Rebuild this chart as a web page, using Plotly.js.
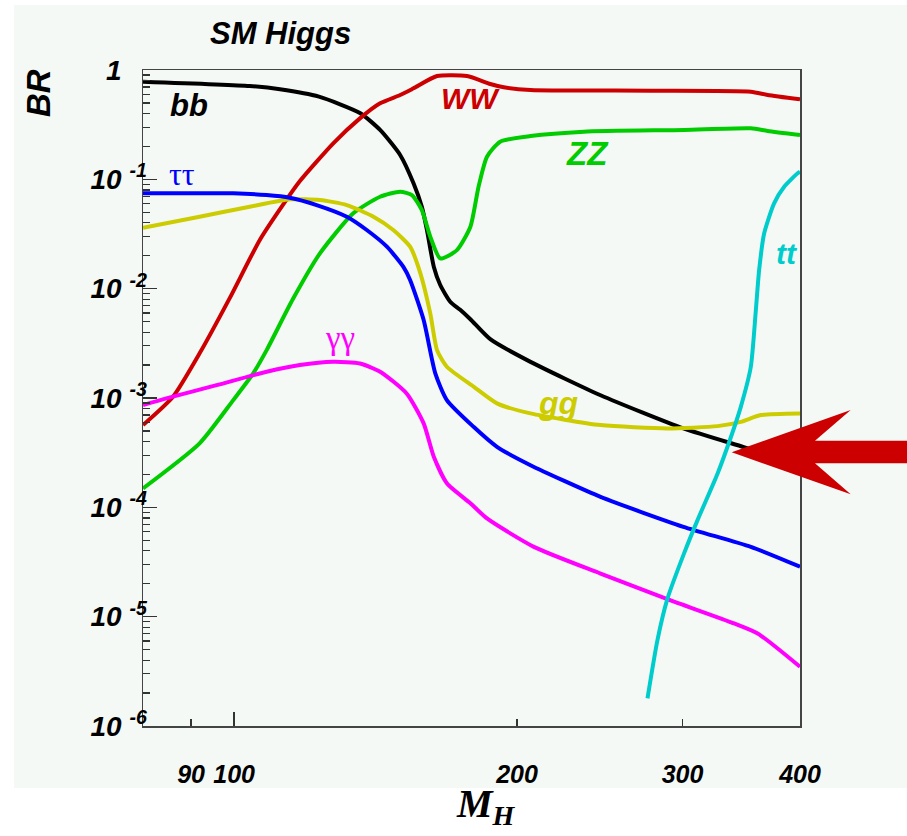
<!DOCTYPE html>
<html><head><meta charset="utf-8">
<script src="https://cdn.plot.ly/plotly-3.0.1.min.js"></script>
<style>html,body{margin:0;padding:0;background:#fff;}#chart{width:907px;height:836px;}</style>
</head><body><div id="chart"></div>
<script>
// Higgs mass (GeV) and branching ratios
const bbMass = [80, 103.9, 111.9, 123.1, 136.1, 143.0, 150.2, 155.2, 158.4, 160.4, 163.1, 165.7, 169.8, 174.0, 178.4, 187.3, 206.7, 245.4, 300.6, 348.5, 400];
const bbBR   = [0.782, 0.714, 0.666, 0.570, 0.404, 0.283, 0.167, 0.092, 0.056, 0.0344, 0.0159, 0.0108, 0.0076, 0.0064, 0.00525, 0.00345, 0.00214, 0.00106, 0.000527, 0.000356, 0.000248];

const wwMass = [80, 86.1, 91.9, 98.9, 106.5, 112.8, 117.5, 127.5, 136.1, 143.0, 150.2, 155.2, 164.4, 176.9, 187.3, 193.6, 206.7, 277.5, 354.6, 369.5, 400];
const wwBR   = [0.000565, 0.001026, 0.00256, 0.00815, 0.0279, 0.0590, 0.0964, 0.2135, 0.361, 0.496, 0.59, 0.680, 0.881, 0.881, 0.745, 0.695, 0.656, 0.647, 0.633, 0.591, 0.539];

const zzMass = [80, 91.9, 99.8, 104.8, 108.3, 115.5, 123.4, 133.9, 143.0, 150.2, 154.6, 158.4, 161.7, 165.7, 172.6, 178.4, 182.0, 185.8, 191.9, 206.7, 235.6, 301.1, 354.6, 369.5, 400];
const zzBR   = [0.000149, 0.000385, 0.000957, 0.00168, 0.00274, 0.00803, 0.0210, 0.0489, 0.0693, 0.0771, 0.0718, 0.0524, 0.0299, 0.0189, 0.0225, 0.0368, 0.0856, 0.161, 0.221, 0.249, 0.273, 0.283, 0.293, 0.277, 0.254];

const tautauMass = [80, 99.8, 108.3, 114.6, 122.4, 131.8, 138.4, 145.4, 151.4, 153.9, 159.1, 163.7, 168.4, 179.8, 190.4, 206.7, 245.4, 300.6, 354.6, 400];
const tautauBR   = [0.0745, 0.0745, 0.0718, 0.0679, 0.0582, 0.0455, 0.0344, 0.0242, 0.0158, 0.0120, 0.00516, 0.00168, 0.000957, 0.000545, 0.000358, 0.000243, 0.0001247, 0.0000664, 0.0000435, 0.0000286];

const ggMass = [80, 91.9, 103.9, 114.6, 123.4, 131.8, 140.7, 147.7, 153.9, 157.8, 161.7, 164.4, 168.4, 179.8, 190.4, 206.7, 245.4, 289.0, 326.9, 346.0, 363.4, 400];
const ggBR   = [0.0361, 0.0455, 0.0561, 0.0656, 0.0647, 0.0582, 0.0455, 0.0344, 0.0242, 0.0139, 0.00594, 0.00274, 0.00193, 0.00127, 0.000893, 0.000723, 0.000565, 0.000527, 0.000553, 0.000605, 0.000698, 0.000723];

const gamgamMass = [80, 84.7, 95.8, 108.3, 117.5, 127.5, 136.1, 143.0, 152.6, 159.1, 163.1, 168.4, 178.4, 185.8, 208.4, 245.4, 289.0, 340.4, 360.6, 400];
const gamgamBR   = [0.000861, 0.000991, 0.00131, 0.00174, 0.00200, 0.00214, 0.00207, 0.00174, 0.00110, 0.000586, 0.00029, 0.000166, 0.000109, 0.0000791, 0.0000435, 0.0000248, 0.00001445, 0.00000867, 0.00000702, 0.00000348];

const ttMass = [275.3, 282.1, 289.0, 301.1, 311.2, 326.9, 337.8, 346.0, 354.6, 359.0, 361.9, 366.4, 375.4, 384.8, 397.7, 400];
const ttBR   = [0.00000179, 0.0000061, 0.00001445, 0.0000379, 0.0000764, 0.000204, 0.000442, 0.00083, 0.00193, 0.00637, 0.0148, 0.0321, 0.0603, 0.0855, 0.1135, 0.1174];

const xTickVals = [90, 100, 200, 300, 400];
const xTickText = ['90', '100', '200', '300', '400'];
const yTickVals = [1e-6, 1e-5, 1e-4, 1e-3, 1e-2, 1e-1, 1];
const yTickText = ['10 <sup>-6</sup>', '10 <sup>-5</sup>', '10 <sup>-4</sup>', '10 <sup>-3</sup>', '10 <sup>-2</sup>', '10 <sup>-1</sup>',
                   '1<span style="color:rgba(0,0,0,0)"> <sup>-1</sup></span>'];

const yMinor = [];
for (let e = -6; e < 0; e++) for (let d = 2; d <= 9; d++) yMinor.push(d * Math.pow(10, e));

function tr(x, y, color) {
  return {x: x, y: y, type: 'scatter', mode: 'lines',
    line: {color: color, width: 4, shape: 'spline', smoothing: 0.6},
    hoverinfo: 'skip', showlegend: false};
}

const data = [
  tr(bbMass, bbBR, '#000000'),
  tr(wwMass, wwBR, '#cc0000'),
  tr(zzMass, zzBR, '#00cc00'),
  tr(ggMass, ggBR, '#cccc00'),
  tr(tautauMass, tautauBR, '#0000ff'),
  tr(gamgamMass, gamgamBR, '#ff00ff'),
  tr(ttMass, ttBR, '#00cccc')
];

const sansIt = {family: 'Liberation Sans, Arial, sans-serif', style: 'italic', weight: 'bold'};
function f(size, color) { return Object.assign({}, sansIt, {size: size, color: color}); }

const annotations = [
  {text: 'SM Higgs', x: 0.2100, y: 1.0564, font: f(31, '#000')},
  {text: 'BR', x: -0.1598, y: 0.9649, textangle: -90, font: f(33, '#000')},
  {text: '<i>M</i><sub><i>H</i></sub>', x: 0.5221, y: -0.122, font: {family: 'Liberation Serif, Times New Roman, serif', size: 40, color: '#000', weight: 'bold'}},
  {text: 'bb', x: 0.0700, y: 0.9466, font: f(31, '#000')},
  {text: 'ττ', x: 0.0594, y: 0.8415, font: {family: 'Liberation Serif, serif', size: 32, color: '#0000ff'}},
  {text: 'WW', x: 0.4992, y: 0.9573, font: f(30, '#cc0000')},
  {text: 'ZZ', x: 0.6758, y: 0.8720, font: f(33, '#00cc00')},
  {text: 'tt', x: 0.9802, y: 0.7210, font: f(30, '#00cccc')},
  {text: 'gg', x: 0.6317, y: 0.4924, font: f(32, '#cccc00')},
  {text: 'γγ', x: 0.2998, y: 0.5915, font: {family: 'Liberation Serif, serif', size: 33, color: '#ff00ff'}}
].map(a => Object.assign({xref: 'paper', yref: 'paper', showarrow: false, xanchor: 'center', yanchor: 'middle'}, a));

const shapes = [
  {type: 'rect', xref: 'paper', yref: 'paper', x0: -0.1963, x1: 1.2, y0: -0.0945, y1: 1.0991,
   fillcolor: '#f4f9f6', line: {width: 0}, layer: 'below'},
  {type: 'path', xref: 'paper', yref: 'paper', layer: 'above',
   path: 'M 0.8960 0.4172 L 1.0772 0.4817 L 1.0228 0.4349 L 1.2 0.4349 L 1.2 0.4005 L 1.0228 0.4005 L 1.0772 0.3532 Z',
   fillcolor: '#cc0000', line: {width: 0}}
];

const layout = {
  width: 907, height: 836,
  margin: {l: 143, r: 107, t: 70, b: 110, pad: 0},
  paper_bgcolor: '#ffffff', plot_bgcolor: 'rgba(0,0,0,0)',
  showlegend: false, hovermode: false,
  xaxis: {type: 'log', range: [Math.log10(80), Math.log10(400)],
    tickmode: 'array', tickvals: xTickVals, ticktext: xTickText,
    ticks: 'inside', ticklen: 7, tickwidth: 1.3, tickcolor: '#333',
    minor: {tickmode: 'array', tickvals: [100], ticks: 'inside', ticklen: 14, tickwidth: 1.3, tickcolor: '#333'},
    ticklabelstandoff: 25,
    tickfont: f(25, '#000'),
    showline: true, linecolor: '#444', linewidth: 1.5, mirror: true,
    showgrid: false, zeroline: false, fixedrange: true},
  yaxis: {type: 'log', range: [-6, 0],
    tickmode: 'array', tickvals: yTickVals, ticktext: yTickText,
    ticks: 'inside', ticklen: 14, tickwidth: 1.3, tickcolor: '#333',
    minor: {tickmode: 'array', tickvals: yMinor, ticks: 'inside', ticklen: 7, tickwidth: 1.3, tickcolor: '#333'},
    ticklabelstandoff: -11,
    tickfont: f(28, '#000'),
    showline: true, linecolor: '#444', linewidth: 1.5, mirror: true,
    showgrid: false, zeroline: false, fixedrange: true},
  annotations: annotations,
  shapes: shapes
};

Plotly.newPlot('chart', data, layout, {displayModeBar: false, staticPlot: true});
</script>
</body></html>
